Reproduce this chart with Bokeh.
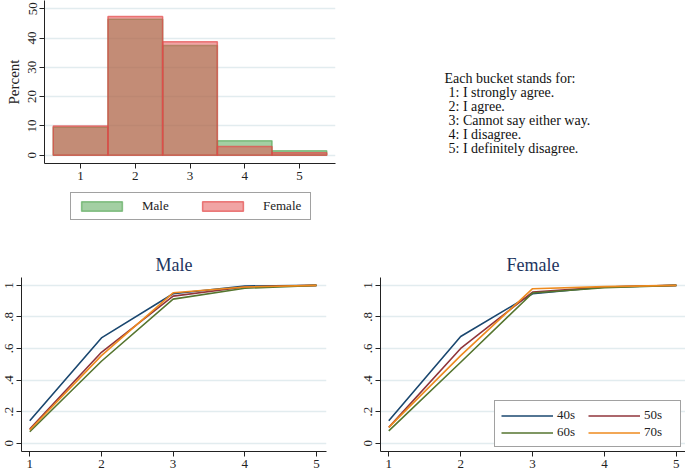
from bokeh.plotting import figure
from bokeh.models import Legend, LegendItem, Range1d, FixedTicker
from bokeh.layouts import column, row
from bokeh.embed import file_html
from bokeh.resources import INLINE
from bokeh.core.properties import value

# ---------------- data ----------------
buckets = [1, 2, 3, 4, 5]
male_pct = [9.5, 46.4, 37.4, 4.9, 1.5]
female_pct = [10.0, 47.3, 38.7, 3.0, 0.8]

note_lines = [
    "Each bucket stands for:",
    "1: I strongly agree.",
    "2: I agree.",
    "3: Cannot say either way.",
    "4: I disagree.",
    "5: I definitely disagree.",
]

cohorts = ["40s", "50s", "60s", "70s"]
male_40s = [0.142, 0.667, 0.947, 0.996, 1.0]
male_50s = [0.089, 0.576, 0.932, 0.990, 1.0]
male_60s = [0.072, 0.519, 0.913, 0.982, 1.0]
male_70s = [0.083, 0.555, 0.953, 0.990, 1.0]
female_40s = [0.142, 0.676, 0.947, 0.990, 1.0]
female_50s = [0.100, 0.600, 0.958, 0.990, 1.0]
female_60s = [0.078, 0.513, 0.952, 0.985, 1.0]
female_70s = [0.100, 0.555, 0.979, 0.992, 1.0]

y_ticks = [0, 0.2, 0.4, 0.6, 0.8, 1.0]
y_tick_labels = ["0", ".2", ".4", ".6", ".8", "1"]
hist_ticks = [0, 10, 20, 30, 40, 50]

cohort_colors = ["#1a476f", "#90353b", "#55752f", "#ee8a1e"]
SERIF = "Liberation Serif"

HIST_H = 185
LEG_H = 43
BOT_H = 244
MALE_STYLE = dict(fill_color="#3e9a3e", fill_alpha=0.48,
                  line_color="#3e9a3e", line_alpha=0.55, line_width=1.5)
FEMALE_STYLE = dict(fill_color="#e44a4a", fill_alpha=0.5,
                    line_color="#e44a4a", line_alpha=0.7, line_width=1.5)


def style(p):
    p.outline_line_color = None
    p.background_fill_color = "white"
    p.border_fill_color = "white"
    p.xgrid.visible = False
    p.ygrid.grid_line_color = "#e2ecef"
    p.ygrid.grid_line_width = 1.3
    for ax in p.axis:
        ax.axis_line_color = "#222222"
        ax.axis_line_width = 1
        ax.major_tick_line_color = "#222222"
        ax.major_tick_in = 0
        ax.major_tick_out = 5
        ax.minor_tick_line_color = None
        ax.major_label_text_font = SERIF
        ax.major_label_text_font_size = "13px"
        ax.major_label_text_color = "#222222"
        ax.major_label_standoff = 3
    p.yaxis.major_label_orientation = "vertical"


def blank(p):
    p.axis.visible = False
    p.grid.visible = False
    p.outline_line_color = None
    p.background_fill_color = "white"
    p.border_fill_color = "white"


# ---------------- histogram ----------------
hist = figure(width=340, height=HIST_H, output_backend="svg", toolbar_location=None,
              x_range=Range1d(0.34, 5.66), y_range=Range1d(-2.83, 52.8),
              min_border_left=44, min_border_right=5, min_border_top=0,
              min_border_bottom=HIST_H - 163)
left = [b - 0.5 for b in buckets]
right = [b + 0.5 for b in buckets]
hist.quad(left=left, right=right, bottom=0, top=male_pct, **MALE_STYLE)
hist.quad(left=left, right=right, bottom=0, top=female_pct, **FEMALE_STYLE)
style(hist)
hist.xaxis.ticker = FixedTicker(ticks=buckets)
hist.yaxis.ticker = FixedTicker(ticks=hist_ticks)
hist.yaxis.axis_label = "Percent"
hist.yaxis.axis_label_text_font = SERIF
hist.yaxis.axis_label_text_font_style = "normal"
hist.yaxis.axis_label_text_font_size = "15px"
hist.yaxis.axis_label_text_color = "#222222"
hist.yaxis.axis_label_standoff = 4

# legend strip under the histogram (proxy bars kept out of view: y range below 0)
legfig = figure(width=340, height=LEG_H, output_backend="svg", toolbar_location=None,
                x_range=Range1d(0.34, 5.66), y_range=Range1d(-20, -10),
                min_border_left=44, min_border_right=5, min_border_top=0,
                min_border_bottom=0)
blank(legfig)
lm = legfig.quad(left=left, right=right, bottom=0, top=male_pct, **MALE_STYLE)
lf = legfig.quad(left=left, right=right, bottom=0, top=female_pct, **FEMALE_STYLE)
hleg = Legend(items=[LegendItem(label="Male", renderers=[lm]),
                     LegendItem(label="Female", renderers=[lf])],
              orientation="horizontal", location=(26, 8),
              glyph_width=51, glyph_height=12, label_standoff=15,
              label_width=42, spacing=13, padding=5, margin=0,
              label_text_font=SERIF, label_text_font_size="13px",
              label_text_color="#222222",
              border_line_color="#444444", border_line_width=1.5,
              background_fill_color="white")
legfig.add_layout(hleg, "center")

# ---------------- notes ----------------
notes = figure(width=345, height=HIST_H, output_backend="svg", toolbar_location=None,
               x_range=Range1d(0, 345), y_range=Range1d(163, 0),
               min_border_left=0, min_border_right=0, min_border_top=0,
               min_border_bottom=HIST_H - 163)
blank(notes)
nx = [104] + [108] * (len(note_lines) - 1)
ny = [78 + 14 * i for i in range(len(note_lines))]
notes.text(x=nx, y=ny, text=note_lines, text_font=value(SERIF),
           text_font_size="14px", text_baseline="middle", text_color="#111111")


# ---------------- CDF panels ----------------
def cdf_panel(title, series, width, mb_left, mb_right, x_end, with_legend):
    p = figure(width=width, height=BOT_H, output_backend="svg", toolbar_location=None,
               x_range=Range1d(0.885, x_end), y_range=Range1d(-0.053, 1.05),
               min_border_left=mb_left, min_border_right=mb_right,
               min_border_top=49, min_border_bottom=BOT_H - 223, title=title)
    p.title.text_font = SERIF
    p.title.text_font_size = "18px"
    p.title.text_font_style = "normal"
    p.title.text_color = "#1e3560"
    p.title.align = "center"
    p.title.standoff = 5
    rends = {}
    for name, ys, col in zip(cohorts, series, cohort_colors):
        rends[name] = p.line(buckets, ys, line_color=col, line_width=1.6)
    style(p)
    p.xaxis.ticker = FixedTicker(ticks=buckets)
    p.yaxis.ticker = FixedTicker(ticks=y_ticks)
    p.yaxis.major_label_overrides = dict(zip(y_ticks, y_tick_labels))
    if with_legend:
        order = ["40s", "60s", "50s", "70s"]  # column-major fill -> row-major look
        items = [LegendItem(label=n, renderers=[rends[n]]) for n in order]
        lg = Legend(items=items, location="bottom_right", ncols=2,
                    glyph_width=52, glyph_height=13, label_standoff=4,
                    label_width=30, spacing=1, padding=6, margin=4,
                    label_text_font=SERIF, label_text_font_size="13px",
                    label_text_color="#222222",
                    border_line_color="#444444", border_line_width=1.3,
                    background_fill_color="white", background_fill_alpha=1)
        p.add_layout(lg, "center")
    return p


male_p = cdf_panel("Male", [male_40s, male_50s, male_60s, male_70s],
                   345, 21, 19, 5.14, False)
female_p = cdf_panel("Female", [female_40s, female_50s, female_60s, female_70s],
                     340, 35, 0, 5.127, True)

layout = column(row(column(hist, legfig), notes), row(male_p, female_p))
open("out.html", "w").write(file_html(layout, INLINE))
